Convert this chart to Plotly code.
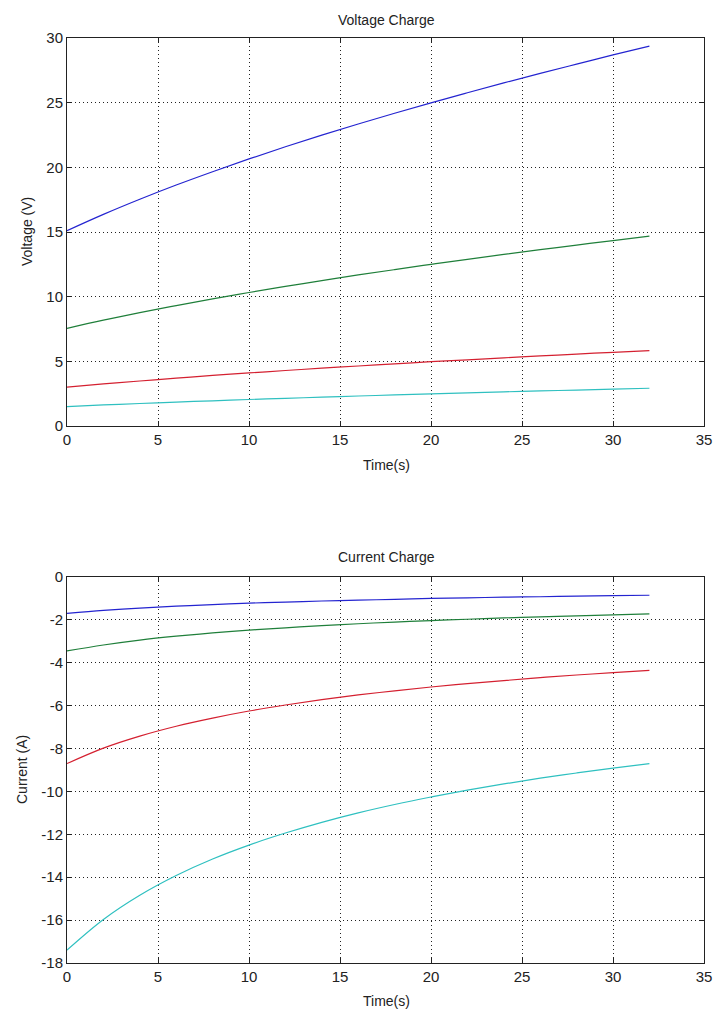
import plotly.graph_objects as go

W, H = 716, 1013

time_s = [0, 2, 4, 6, 8, 10, 12, 14, 16, 18, 20, 22, 24, 26, 28, 30, 32]

volt_blue = [15.1, 16.36, 17.53, 18.63, 19.66, 20.65, 21.59, 22.49, 23.35, 24.18, 24.99, 25.77, 26.53, 27.27, 27.98, 28.69, 29.37]
volt_green = [7.55, 8.18, 8.77, 9.31, 9.83, 10.32, 10.79, 11.24, 11.68, 12.09, 12.5, 12.89, 13.27, 13.63, 13.99, 14.34, 14.68]
volt_red = [3.0, 3.25, 3.48, 3.7, 3.91, 4.1, 4.29, 4.47, 4.64, 4.8, 4.97, 5.12, 5.27, 5.42, 5.56, 5.7, 5.83]
volt_cyan = [1.5, 1.63, 1.74, 1.85, 1.95, 2.05, 2.14, 2.23, 2.32, 2.4, 2.48, 2.56, 2.64, 2.71, 2.78, 2.85, 2.92]

curr_blue = [-1.7, -1.56, -1.45, -1.36, -1.29, -1.22, -1.17, -1.12, -1.08, -1.04, -1.0, -0.97, -0.94, -0.92, -0.89, -0.87, -0.85]
curr_green = [-3.45, -3.17, -2.94, -2.76, -2.61, -2.48, -2.37, -2.27, -2.18, -2.10, -2.03, -1.97, -1.91, -1.86, -1.81, -1.77, -1.72]
curr_red = [-8.7, -7.98, -7.42, -6.96, -6.58, -6.25, -5.97, -5.72, -5.50, -5.31, -5.13, -4.97, -4.83, -4.69, -4.57, -4.46, -4.35]
curr_cyan = [-17.4, -15.97, -14.84, -13.92, -13.15, -12.5, -11.94, -11.44, -11.0, -10.61, -10.26, -9.94, -9.65, -9.38, -9.14, -8.91, -8.7]

colors = ["#2424d0", "#1f7f3a", "#d42030", "#2fc0c0"]

x_ticks = [0, 5, 10, 15, 20, 25, 30, 35]
v_ticks = [0, 5, 10, 15, 20, 25, 30]
i_ticks = [0, -2, -4, -6, -8, -10, -12, -14, -16, -18]
i_ticklabels = ["0", "-2", "-4", "-6", "-8", "-10", "-12", "-14", "-16", "-18"]

fig = go.Figure()
for ys, c in zip([volt_blue, volt_green, volt_red, volt_cyan], colors):
    fig.add_trace(go.Scatter(x=time_s, y=ys, mode="lines", line=dict(color=c, width=1.2, shape="spline"),
                             xaxis="x", yaxis="y", showlegend=False))
for ys, c in zip([curr_blue, curr_green, curr_red, curr_cyan], colors):
    fig.add_trace(go.Scatter(x=time_s, y=ys, mode="lines", line=dict(color=c, width=1.2, shape="spline"),
                             xaxis="x2", yaxis="y2", showlegend=False))

font = dict(family="Liberation Sans, Arial, sans-serif", size=15, color="#222222")
axis_common = dict(showline=True, linecolor="#222222", linewidth=1, mirror="ticks", ticks="inside",
                   ticklen=5, tickcolor="#222222", showgrid=True, gridcolor="#222222", griddash="1px,3px",
                   gridwidth=1, zeroline=False, tickfont=font, automargin=False)

xd = [67 / W, 704 / W]
fig.update_layout(
    width=W, height=H,
    margin=dict(l=0, r=0, t=0, b=0),
    paper_bgcolor="white", plot_bgcolor="white",
    xaxis=dict(domain=xd, anchor="y", range=[0, 35], tickvals=x_ticks, **axis_common),
    yaxis=dict(domain=[1 - 426 / H, 1 - 38 / H], anchor="x", range=[0, 30], tickvals=v_ticks, **axis_common),
    xaxis2=dict(domain=xd, anchor="y2", range=[0, 35], tickvals=x_ticks, **axis_common),
    yaxis2=dict(domain=[1 - 963 / H, 1 - 577 / H], anchor="x2", range=[-18, 0], tickvals=i_ticks,
                ticktext=i_ticklabels, **axis_common),
)

lab = dict(family="Liberation Sans, Arial, sans-serif", size=14, color="#222222")
ann = [
    ("Voltage Charge", 386, 20, 0),
    ("Time(s)", 386, 465, 0),
    ("Voltage (V)", 27, 232, -90),
    ("Current Charge", 386, 557, 0),
    ("Time(s)", 386, 1001, 0),
    ("Current (A)", 22, 770, -90),
]
for text, px, py, ang in ann:
    fig.add_annotation(text=text, x=px / W, y=1 - py / H, xref="paper", yref="paper",
                       showarrow=False, font=lab, textangle=ang, xanchor="center", yanchor="middle")

fig.write_html("out.html", config={"displayModeBar": False},
               post_script="document.body.style.margin='0';document.body.style.overflow='hidden';")
